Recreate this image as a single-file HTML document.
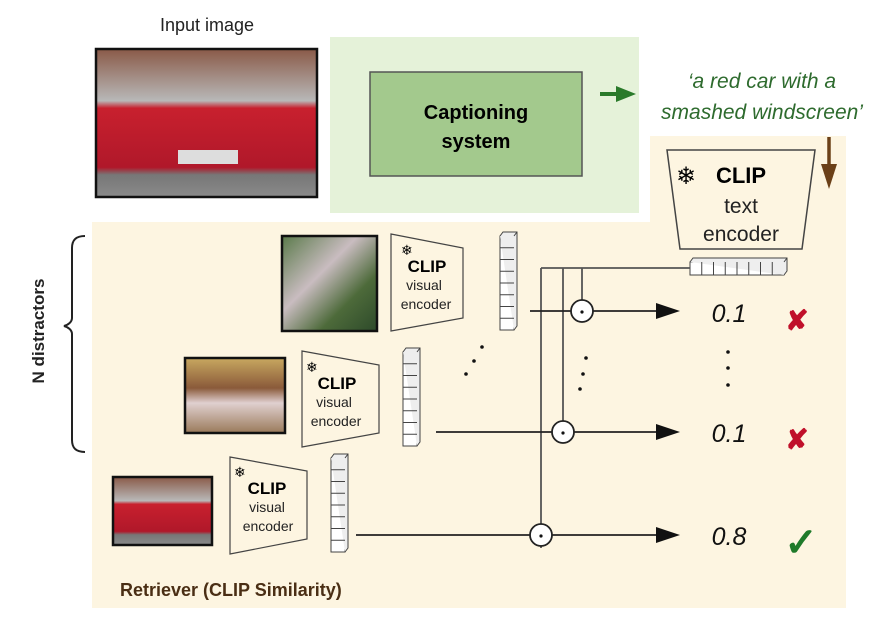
<!DOCTYPE html>
<html><head><meta charset="utf-8"><style>
html,body{margin:0;padding:0;background:#fff}
svg{display:block}
text{font-family:"Liberation Sans",sans-serif}
</style></head><body>
<svg width="895" height="637" viewBox="0 0 895 637" xmlns="http://www.w3.org/2000/svg">
<defs>
<linearGradient id="car" x1="0" y1="0" x2="0" y2="1"><stop offset="0" stop-color="#8a5a48"/><stop offset="0.35" stop-color="#b8b8b8"/><stop offset="0.4" stop-color="#c8202e"/><stop offset="0.8" stop-color="#b0182a"/><stop offset="0.85" stop-color="#777"/><stop offset="1" stop-color="#8a8a8a"/></linearGradient>
<linearGradient id="plant" x1="0" y1="0" x2="1" y2="1"><stop offset="0" stop-color="#5a7a4a"/><stop offset="0.4" stop-color="#c9bcc0"/><stop offset="0.7" stop-color="#4d6a3a"/><stop offset="1" stop-color="#2d4a2a"/></linearGradient>
<linearGradient id="bed" x1="0" y1="0" x2="0" y2="1"><stop offset="0" stop-color="#c8a860"/><stop offset="0.4" stop-color="#8a5a3a"/><stop offset="0.6" stop-color="#e0d0d0"/><stop offset="1" stop-color="#9a7a5a"/></linearGradient>
<g id="vec"><rect x="0" y="0" width="14" height="94" fill="#fff" stroke="#444" stroke-width="1"/>
<path d="M0 0 L3 -4 L17 -4 L17 90 L14 94 M14 0 L17 -4" fill="#eee" stroke="#444" stroke-width="1"/>
<path d="M0 11.75H14M0 23.5H14M0 35.25H14M0 47H14M0 58.75H14M0 70.5H14M0 82.25H14" stroke="#444" stroke-width="1"/></g>
</defs>
<!-- backgrounds -->
<rect x="92" y="222" width="754" height="386" fill="#fdf5e1"/>
<rect x="650" y="136" width="196" height="90" fill="#fdf5e1"/>
<rect x="330" y="37" width="309" height="176" fill="#e5f2d9"/>
<rect x="370" y="72" width="212" height="104" fill="#a3c98d" stroke="#555" stroke-width="1.5"/>
<text x="476" y="119" font-size="20" font-weight="bold" text-anchor="middle">Captioning</text>
<text x="476" y="148" font-size="20" font-weight="bold" text-anchor="middle">system</text>
<!-- input image -->
<text x="207" y="31" font-size="18" text-anchor="middle" fill="#222">Input image</text>
<rect x="96" y="49" width="221" height="148" fill="url(#car)" stroke="#111" stroke-width="2.5"/>
<rect x="178" y="150" width="60" height="14" fill="#ddd"/>
<!-- green arrow -->
<path d="M600 94H618" stroke="#2a7a2a" stroke-width="4"/><path d="M616 86L636 94L616 102Z" fill="#2a7a2a"/>
<text x="762" y="88" font-size="21" font-style="italic" fill="#2e6b2e" text-anchor="middle">‘a red car with a</text>
<text x="762" y="119" font-size="21" font-style="italic" fill="#2e6b2e" text-anchor="middle">smashed windscreen’</text>
<!-- text encoder -->
<path d="M667 150L815 150L802 249L680 249Z" fill="#fdf5e1" stroke="#444" stroke-width="1.5"/>
<!-- brown arrow -->
<path d="M829 137V166" stroke="#6b4018" stroke-width="3.5"/><path d="M821 164L829 189L837 164Z" fill="#6b4018"/>
<text x="686" y="184" font-size="24" text-anchor="middle">❄</text>
<text x="741" y="183" font-size="22" font-weight="bold" text-anchor="middle">CLIP</text>
<text x="741" y="213" font-size="21" text-anchor="middle" fill="#222">text</text>
<text x="741" y="241" font-size="21" text-anchor="middle" fill="#222">encoder</text>
<!-- horizontal text vector -->
<g stroke="#444" stroke-width="1" fill="#fff">
<rect x="690" y="262" width="94" height="13"/>
<path d="M690 262L693 258H787V271L784 275M784 262L787 258" fill="#eee"/>
<path d="M701.75 262V275M713.5 262V275M725.25 262V275M737 262V275M748.75 262V275M760.5 262V275M772.25 262V275"/>
</g>
<!-- connecting lines -->
<g stroke="#555" stroke-width="1.8" fill="none">
<path d="M541 268H690"/>
<path d="M541 268V548"/>
<path d="M563 268V421"/>
<path d="M582 268V300"/>
</g>
<g stroke="#222" stroke-width="1.8">
<path d="M530 311H571"/><path d="M593 311H660"/>
<path d="M436 432H552"/><path d="M574 432H660"/>
<path d="M356 535H530"/><path d="M552 535H660"/>
</g>
<g fill="#111"><path d="M656 303L680 311L656 319Z"/><path d="M656 424L680 432L656 440Z"/><path d="M656 527L680 535L656 543Z"/></g>
<g fill="#fff" stroke="#222" stroke-width="1.8">
<circle cx="582" cy="311" r="11"/><circle cx="563" cy="432" r="11"/><circle cx="541" cy="535" r="11"/>
</g>
<g fill="#111"><circle cx="582" cy="312" r="1.6"/><circle cx="563" cy="433" r="1.6"/><circle cx="541" cy="536" r="1.6"/>
<circle cx="466" cy="374" r="1.8"/><circle cx="474" cy="361" r="1.8"/><circle cx="482" cy="347" r="1.8"/>
<circle cx="580" cy="389" r="1.8"/><circle cx="583" cy="374" r="1.8"/><circle cx="586" cy="358" r="1.8"/>
<circle cx="728" cy="352" r="1.8"/><circle cx="728" cy="368" r="1.8"/><circle cx="728" cy="385" r="1.8"/></g>
<!-- row 1 -->
<rect x="282" y="236" width="95" height="95" fill="url(#plant)" stroke="#111" stroke-width="2.5"/>
<path d="M391 234L463 248L463 318L391 331Z" fill="#fdf5e1" stroke="#444" stroke-width="1.2"/>
<text x="401" y="255" font-size="14">❄</text>
<text x="427" y="272" font-size="17" font-weight="bold" text-anchor="middle">CLIP</text>
<text x="424" y="290" font-size="14" text-anchor="middle" fill="#222">visual</text>
<text x="426" y="309" font-size="14" text-anchor="middle" fill="#222">encoder</text>
<use href="#vec" x="500" y="236"/>
<!-- row 2 -->
<rect x="185" y="358" width="100" height="75" fill="url(#bed)" stroke="#111" stroke-width="2.5"/>
<path d="M302 351L379 365L379 433L302 447Z" fill="#fdf5e1" stroke="#444" stroke-width="1.2"/>
<text x="306" y="372" font-size="14">❄</text>
<text x="337" y="389" font-size="17" font-weight="bold" text-anchor="middle">CLIP</text>
<text x="334" y="407" font-size="14" text-anchor="middle" fill="#222">visual</text>
<text x="336" y="426" font-size="14" text-anchor="middle" fill="#222">encoder</text>
<use href="#vec" x="403" y="352"/>
<!-- row 3 -->
<rect x="113" y="477" width="99" height="68" fill="url(#car)" stroke="#111" stroke-width="2.5"/>
<path d="M230 457L307 471L307 539L230 554Z" fill="#fdf5e1" stroke="#444" stroke-width="1.2"/>
<text x="234" y="477" font-size="14">❄</text>
<text x="267" y="494" font-size="17" font-weight="bold" text-anchor="middle">CLIP</text>
<text x="267" y="512" font-size="14" text-anchor="middle" fill="#222">visual</text>
<text x="268" y="531" font-size="14" text-anchor="middle" fill="#222">encoder</text>
<use href="#vec" x="331" y="458"/>
<!-- values -->
<g font-size="25" font-style="italic" fill="#111" text-anchor="middle">
<text x="729" y="322">0.1</text><text x="729" y="442">0.1</text><text x="729" y="545">0.8</text></g>
<g font-size="28" font-weight="bold" fill="#c0102a" text-anchor="middle">
<text x="797" y="330">✘</text><text x="797" y="449">✘</text></g>
<text x="801" y="556" font-size="40" font-weight="bold" fill="#1f7a2a" text-anchor="middle">✓</text>
<!-- N distractors -->
<text transform="translate(44 331) rotate(-90)" font-size="17" font-weight="bold" text-anchor="middle" fill="#222">N distractors</text>
<path d="M85 236C76 236 72 240 72 248V318C72 322 68 325 64 326C68 327 72 330 72 334V440C72 448 76 452 85 452" fill="none" stroke="#222" stroke-width="2"/>
<!-- retriever label -->
<text x="120" y="596" font-size="18" font-weight="bold" fill="#4a2e14">Retriever (CLIP Similarity)</text>
</svg>
</body></html>
